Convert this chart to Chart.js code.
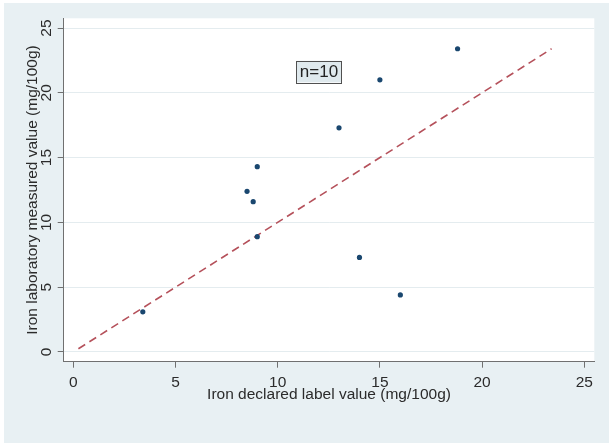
<!DOCTYPE html>
<html>
<head>
<meta charset="utf-8">
<script src="https://cdn.jsdelivr.net/npm/chart.js@4/dist/chart.umd.min.js"></script>
<style>
  html, body { margin: 0; padding: 0; background: #ffffff; }
  #wrap { position: absolute; left: 4px; top: 3px; width: 605px; height: 440px; background: #e8f0f3; }
</style>
</head>
<body>
<div id="wrap"><canvas id="grafico"></canvas></div>
<script>
// dados (mg/100g)
var declarado = [3.4, 8.5, 8.8, 9.0, 9.0, 13.0, 14.0, 15.0, 16.0, 18.8];
var medido = [3.1, 12.4, 11.6, 14.3, 8.9, 17.3, 7.3, 21.0, 4.4, 23.4];

// linha de igualdade y = x
var linhaX = [0.25, 23.4];
var linhaY = [0.25, 23.4];

var ticksX = [0, 5, 10, 15, 20, 25];
var ticksY = [0, 5, 10, 15, 20, 25];

var tituloX = 'Iron declared label value (mg/100g)';
var tituloY = 'Iron laboratory measured value (mg/100g)';
var rotulo = 'n=10';
var rotuloPos = [12.02, 21.64];

var fonte = "'Liberation Sans', Arial, sans-serif";
var corTexto = '#2b2b2b';
var corEixo = '#707070';

var pontos = declarado.map(function (x, i) { return { x: x, y: medido[i] }; });
var linha = linhaX.map(function (x, i) { return { x: x, y: linhaY[i] }; });

// fundo branco so na area do grafico + caixa "n=10"
var fundoPlugin = {
  id: 'fundo',
  beforeDraw: function (chart) {
    var a = chart.chartArea;
    var ctx = chart.ctx;
    ctx.save();
    ctx.fillStyle = '#ffffff';
    ctx.fillRect(a.left, a.top, a.right - a.left, a.bottom - a.top);
    ctx.restore();
  },
  afterDraw: function (chart) {
    var ctx = chart.ctx;
    var px = chart.scales.x.getPixelForValue(rotuloPos[0]);
    var py = chart.scales.y.getPixelForValue(rotuloPos[1]);
    ctx.save();
    ctx.font = '17px ' + fonte;
    var w = ctx.measureText(rotulo).width + 7;
    var h = 21.5;
    ctx.fillStyle = '#dfe9ed';
    ctx.fillRect(px - w / 2, py - h / 2, w, h);
    ctx.strokeStyle = '#505050';
    ctx.lineWidth = 1;
    ctx.strokeRect(Math.round(px - w / 2) + 0.5, Math.round(py - h / 2) + 0.5, Math.round(w), Math.round(h));
    ctx.fillStyle = '#222222';
    ctx.textAlign = 'center';
    ctx.textBaseline = 'middle';
    ctx.fillText(rotulo, px, py + 1);
    ctx.restore();
  }
};

var config = {
  type: 'scatter',
  data: {
    datasets: [
      {
        type: 'line',
        data: linha,
        borderColor: '#b5515b',
        borderWidth: 1.6,
        borderDash: [8, 5],
        pointRadius: 0,
        fill: false,
        order: 2
      },
      {
        data: pontos,
        backgroundColor: '#1a476f',
        borderColor: '#1a476f',
        borderWidth: 0,
        pointRadius: 2.6,
        order: 1
      }
    ]
  },
  options: {
    responsive: true,
    maintainAspectRatio: false,
    animation: false,
    layout: { padding: { left: 0, right: 14.7, top: 15.3, bottom: 0 } },
    plugins: { legend: { display: false }, tooltip: { enabled: false } },
    scales: {
      x: {
        type: 'linear',
        min: -0.47,
        max: 25.49,
        afterBuildTicks: function (s) { s.ticks = ticksX.map(function (v) { return { value: v }; }); },
        afterFit: function (s) { s.height = 81.3; },
        grid: { drawOnChartArea: false, tickColor: corEixo, tickLength: 6, tickWidth: 1 },
        border: { color: corEixo, width: 1 },
        ticks: { color: corTexto, font: { family: fonte, size: 15.5 }, padding: 6, maxRotation: 0 },
        title: { display: true, text: tituloX, color: corTexto, font: { family: fonte, size: 15.5 }, padding: { top: 0, bottom: 38.7 } }
      },
      y: {
        type: 'linear',
        min: -0.75,
        max: 25.75,
        afterBuildTicks: function (s) { s.ticks = ticksY.map(function (v) { return { value: v }; }); },
        afterFit: function (s) { s.width = 59.7; },
        grid: { color: '#e4ecef', lineWidth: 1, tickColor: corEixo, tickLength: 6, tickWidth: 1 },
        border: { color: corEixo, width: 1 },
        ticks: { color: corTexto, font: { family: fonte, size: 15.5 }, padding: 2.6, minRotation: 90, maxRotation: 90, crossAlign: 'center' },
        title: { display: true, text: tituloY, color: corTexto, font: { family: fonte, size: 15.5 }, padding: { top: 19.7, bottom: 0 } }
      }
    }
  },
  plugins: [fundoPlugin]
};

var meuGrafico = new Chart(document.getElementById('grafico'), config);
</script>
</body>
</html>
